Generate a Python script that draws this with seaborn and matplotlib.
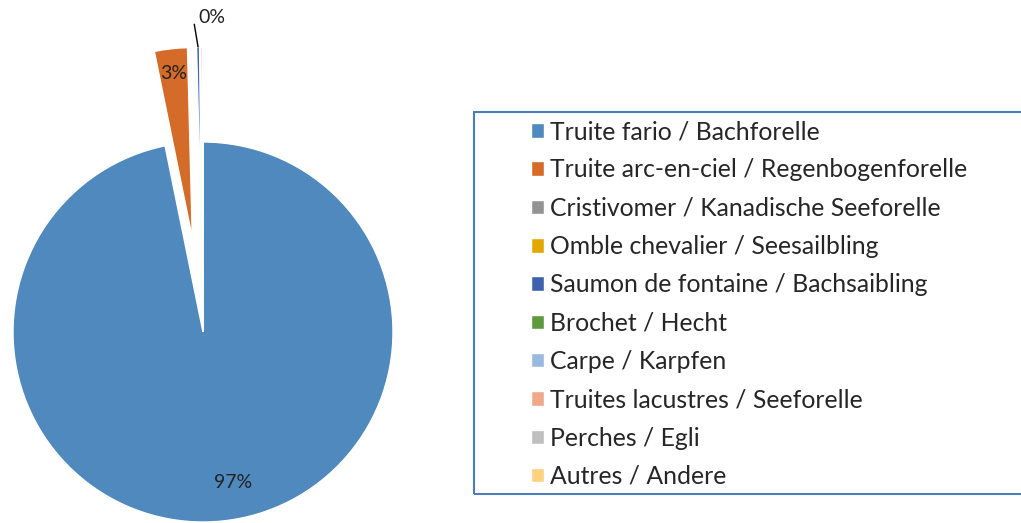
import matplotlib
matplotlib.use('Agg')
import matplotlib.pyplot as plt
import matplotlib.patches as mpatches
import numpy as np
import seaborn as sns

# share of catches per species (%)
species = [
    'Truite fario / Bachforelle',
    'Truite arc-en-ciel / Regenbogenforelle',
    'Cristivomer / Kanadische Seeforelle',
    'Omble chevalier / Seesailbling',
    'Saumon de fontaine / Bachsaibling',
    'Brochet / Hecht',
    'Carpe / Karpfen',
    'Truites lacustres / Seeforelle',
    'Perches / Egli',
    'Autres / Andere',
]
shares = [96.8, 2.8, 0, 0, 0.25, 0, 0, 0.15, 0, 0]
pct_labels = ['97%', '3%', '', '', '0%', '', '', '', '', '']
colors = ['#4F89BD', '#D46B28', '#939393', '#E3A800', '#3F62AE',
          '#5E9A3D', '#99B9DF', '#F1A78A', '#BFBFBF', '#FFD27F']
explode = [0, 0.5, 0, 0, 0.5, 0, 0, 0.5, 0, 0]

sns.set_theme(style='white')
plt.rcParams['font.family'] = ['Lato', 'DejaVu Sans']

fig = plt.figure(figsize=(10.21, 5.23), dpi=100)
# pie area, radius 1 = 190 px, centre at (203, 332) px from top-left
ax = fig.add_axes([0, 0, 406 / 1021, 1])

wedges, _ = ax.pie(shares, colors=colors, explode=explode, startangle=90,
                   counterclock=False, radius=1,
                   wedgeprops=dict(edgecolor='white', linewidth=1))

# label of the big slice sits a bit right of its middle (Excel best fit)
w = wedges[0]
ang = np.deg2rad((w.theta1 + w.theta2) / 2 + 5.5)
ax.text(0.81 * np.cos(ang), 0.81 * np.sin(ang), pct_labels[0],
        ha='center', va='center', fontsize=14, color='#222222')

w = wedges[1]
ang = np.deg2rad((w.theta1 + w.theta2) / 2)
cx, cy = w.center
ax.text(cx + 0.87 * np.cos(ang), cy + 0.87 * np.sin(ang), pct_labels[1],
        ha='center', va='center', fontsize=14, color='#222222')

# small slice label with leader line
w = wedges[4]
ang = np.deg2rad((w.theta1 + w.theta2) / 2)
cx, cy = w.center
tx, ty = cx + np.cos(ang), cy + np.sin(ang)
ax.plot([tx, tx - 0.02], [ty, ty + 0.12], color='black', lw=1)
ax.text(tx, ty + 0.11, pct_labels[4], ha='left', va='bottom',
        fontsize=14, color='#222222')

ax.set_xlim(-203 / 190, 203 / 190)
ax.set_ylim(-191 / 190, 332 / 190)
ax.set_aspect('equal', adjustable='box')
ax.axis('off')

fig.legend(wedges, species, loc='upper left',
           bbox_to_anchor=(531 / 1021, 1 - 120 / 523),
           frameon=False, fontsize=17.8, handlelength=0.53, handleheight=0.53,
           handletextpad=0.25, labelspacing=0.62, borderpad=0,
           borderaxespad=0)

box = mpatches.Rectangle((474 / 1021, 29 / 523), 560 / 1021, 382 / 523,
                         transform=fig.transFigure, fill=False,
                         edgecolor='#4A7EBB', linewidth=1.5)
fig.patches.append(box)

fig.savefig('out.png', dpi=100, facecolor='white')
